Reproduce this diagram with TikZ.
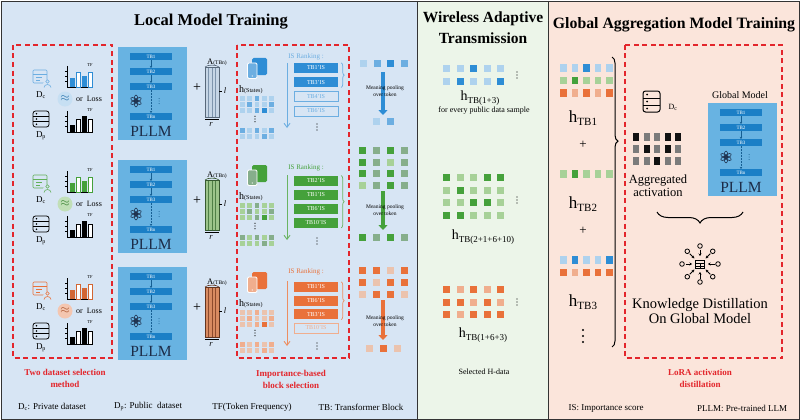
\documentclass[tikz,border=0pt]{standalone}
\usepackage{fontspec}
\setmainfont{Liberation Serif}
\usetikzlibrary{arrows.meta, decorations.pathreplacing}
\definecolor{lbg}{HTML}{D7E5F4}
\definecolor{mbg}{HTML}{ECF5E9}
\definecolor{rbg}{HTML}{FBE5DB}
\definecolor{pllm}{HTML}{68B3E2}
\definecolor{tbbar}{HTML}{1B7FC6}
\definecolor{tbdark}{HTML}{165F93}
\definecolor{navy}{HTML}{1C2C48}
\definecolor{redd}{HTML}{E3262C}
\definecolor{bA}{HTML}{2E8DD5}
\definecolor{bB}{HTML}{6CAEE1}
\definecolor{bC}{HTML}{AED2EE}
\definecolor{gA}{HTML}{45A13B}
\definecolor{gB}{HTML}{86AE8B}
\definecolor{gC}{HTML}{A7D198}
\definecolor{oA}{HTML}{E9713A}
\definecolor{oB}{HTML}{F0AE8E}
\definecolor{oC}{HTML}{EBC3AE}
\definecolor{kA}{HTML}{111111}
\definecolor{kB}{HTML}{7B7B7B}
\definecolor{mfA}{HTML}{C6D6E6}
\definecolor{msA}{HTML}{7E95AD}
\definecolor{mfB}{HTML}{9CC48A}
\definecolor{msB}{HTML}{4F8046}
\definecolor{mfC}{HTML}{D98B61}
\definecolor{msC}{HTML}{8E4B2D}
\tikzstyle{panel}=[draw=black!80, line width=0.9pt]
\tikzstyle{redbox}=[draw=redd, line width=1.1pt, dash pattern=on 5pt off 3.5pt]
\tikzstyle{ttl}=[inner sep=0, align=center, font=\bfseries\fontsize{16.5}{21}\selectfont]
\tikzstyle{txt}=[inner sep=0, align=center]
\tikzstyle{redlbl}=[inner sep=0, align=center, text=redd, font=\bfseries\fontsize{9}{11.5}\selectfont]
\tikzstyle{foot}=[inner sep=0, font=\fontsize{9}{9}\selectfont]
\tikzstyle{tb}=[fill=tbbar, text=white, minimum width=42pt, minimum height=6.5pt,
    inner sep=0, font=\fontsize{5}{5}\selectfont]
\tikzstyle{tbarrow}=[-{Stealth[length=2.2pt, width=2.6pt]}, draw=tbdark, line width=0.5pt]
\tikzstyle{isbox}=[minimum width=44pt, minimum height=10pt, inner sep=0,
    font=\fontsize{6}{6}\selectfont]
\tikzstyle{isarrow}=[-{Straight Barb[length=4pt, width=6pt]}, line width=0.9pt]
\tikzstyle{isbrace}=[decorate, decoration={brace, amplitude=3pt}, line width=0.7pt]
\tikzstyle{poolarrow}=[-{Triangle[length=5pt, width=9pt]}, line width=3.5pt]
\tikzstyle{pooltxt}=[inner sep=0, align=center, font=\fontsize{5.5}{6.5}\selectfont]
\def\sqs{7,7}
% row of small squares: x, y, pitch, size, colours
\newcommand{\sqrow}[5]{\foreach \c [count=\i from 0] in {#5}
    \fill[\c] ({#1+\i*#3},{#2}) rectangle ++(#4);}
% three dots in a column: x, y (middle), gap, radius
\newcommand{\vdts}[4]{\foreach \k in {-1,0,1} \fill ({#1},{#2+\k*#3}) circle (#4);}
\newcommand{\hlab}[2]{h\raisebox{-0.18em}{\fontsize{#2}{#2}\selectfont #1}}
\newcommand{\openailogo}[2]{\begin{scope}[shift={({#1},{#2})}]
    \foreach \a in {0,60,...,300}
      \draw[navy, line width=0.55pt, rotate=\a] (0,-2.3) ellipse [x radius=1.8, y radius=3.6];
  \end{scope}}
% PLLM block: name, x, y (top left)
\newcommand{\pllmbox}[3]{%
  \node[fill=pllm, minimum width=69pt, minimum height=93pt, inner sep=0] (#1) at ({#2+34.5},{#3+46.5}) {};
  \node[tb] (#1tb1) at ({#2+33},{#3+9.5}) {TB1};
  \node[tb] (#1tb2) at ({#2+33},{#3+24.5}) {TB2};
  \node[tb] (#1tb3) at ({#2+33},{#3+39.5}) {TB3};
  \node[tb] (#1tbn) at ({#2+33},{#3+69.5}) {TBn};
  \draw[tbarrow] (#1tb1) -- (#1tb2);
  \draw[tbarrow] (#1tb2) -- (#1tb3);
  \draw[tbarrow, densely dotted] (#1tb3) -- (#1tbn);
  \begin{scope}[tbdark]\vdts{#2+41}{#3+54}{2.5}{0.5}\end{scope}
  \openailogo{#2+18}{#3+54}
  \node[txt, text=navy, font=\fontsize{15.5}{15.5}\selectfont] (#1name) at ({#2+33},{#3+84}) {PLLM};}
% bar chart: name, x, y (base), colour, four heights
\newcommand{\tfchart}[8]{%
  \draw[black, line width=0.6pt] (#2,{#3-21}) -- (#2,#3) -- ({#2+26},#3);
  \foreach \t in {6,11,16} \draw[black, line width=0.5pt] ({#2-2},{#3-\t}) -- (#2,{#3-\t});
  \fill[#4] ({#2+3},#3) rectangle ++(4.5,-#5);
  \draw[#4, fill=white, line width=0.6pt] ({#2+9},#3) rectangle ++(4.5,-#6);
  \fill[#4] ({#2+15},#3) rectangle ++(4.5,-#7);
  \draw[#4, fill=white, line width=0.6pt] ({#2+21},#3) rectangle ++(4.5,-#8);
  \node[txt, font=\fontsize{4.5}{4.5}\selectfont] (#1) at ({#2+23},{#3-22}) {TF};}
% dataset column: name, dy, dark, mid, light
\newcommand{\datarow}[5]{\begin{scope}[shift={(0,#2)}]
  \draw[#4, line width=0.7pt, rounded corners=1pt] (33,70) rectangle (47,83);
  \draw[#4, line width=0.7pt] (33,74) -- (47,74) (36,77.5) -- (42,77.5) (36,80) -- (40,80);
  \fill[lbg] (47.5,84) circle (4.5);
  \draw[#4, line width=0.6pt] (47.5,81.5) circle (1.7);
  \draw[#4, line width=0.6pt] (44,87.5) arc (180:360:3.5 and 3);
  \node[txt, font=\fontsize{9}{9}\selectfont] (#1dc) at (41,95) {D\textsubscript{c}};
  \tfchart{#1tfa}{67}{87}{#3}{9}{15}{11}{15}
  \node[txt, circle, fill=#5!70!white, minimum size=15pt, text=#3!80!black,
    font=\fontsize{12}{12}\selectfont] (#1ap) at (65,99) {$\approx$};
  \node[txt, font=\fontsize{8}{8}\selectfont] (#1loss) at (89,99) {or\ \ Loss};
  \draw[black, line width=0.8pt, rounded corners=2.5pt] (33,111) rectangle (49,127);
  \draw[black, line width=0.8pt] (33,116.3) -- (49,116.3) (33,121.6) -- (49,121.6);
  \foreach \yy in {113.7,119,124.3} \fill[black] (36.5,\yy) circle (0.9);
  \node[txt, font=\fontsize{9}{9}\selectfont] (#1dp) at (41,136) {D\textsubscript{p}};
  \tfchart{#1tfb}{67}{132}{black}{7}{13}{16}{13}
\end{scope}}
% model column: name, dy, fill, stripe
\newcommand{\modelrow}[4]{\begin{scope}[shift={(0,#2)}]
  \pllmbox{#1p}{118}{47}
  \node[txt, font=\fontsize{14}{14}\selectfont] (#1plus) at (197,88) {+};
  \node[txt, font=\fontsize{8.5}{8.5}\selectfont] (#1alab) at (217,62) {A{\fontsize{5.5}{5.5}\selectfont(TBn)}};
  \fill[#3] (205,67) rectangle (219,117);
  \foreach \xx in {208.5,212,215.5} \draw[#4, line width=0.6pt] (\xx,67) -- (\xx,117);
  \draw[#4!70!black, line width=0.7pt] (205,67) rectangle (219,117);
  \draw[#4!70!black, line width=0.6pt] (205,67) .. controls (207,64.5) and (217,64.5) .. (219,67);
  \draw[black, line width=0.5pt] (219,91) -- (222,91);
  \node[txt, font=\itshape\fontsize{8.5}{8.5}\selectfont] (#1l) at (225,91) {l};
  \draw[black, line width=0.5pt] (205,119) -- (219,119);
  \node[txt, font=\itshape\fontsize{8.5}{8.5}\selectfont] (#1r) at (211,124) {r};
\end{scope}}
% hidden states: name, dy, dark, mid, light
\newcommand{\staterow}[5]{\begin{scope}[shift={(0,#2)}]
  \fill[#3, rounded corners=1.5pt] (252,58) rectangle (267,75);
  \draw[white, fill=#4, line width=0.8pt, rounded corners=1.2pt] (247.5,63) rectangle (257,78.5);
  \fill[white] (252.2,76) circle (0.7);
  \node[txt, anchor=west, font=\fontsize{10}{10}\selectfont] (#1h) at (239,90) {h{\fontsize{6}{6}\selectfont(States)}};
  \sqrow{240}{96}{7.3}{4.8,4.8}{#5,#5,#4,#5,#5}
  \sqrow{240}{102}{7.3}{4.8,4.8}{#5,#4,#5,#5,#4}
  \sqrow{240}{108}{7.3}{4.8,4.8}{#5,#5,#4,#3,#5}
  \vdts{255}{119}{2.8}{0.6}
  \sqrow{240}{128}{7.3}{4.8,4.8}{#4,#5,#4,#5,#4}
  \sqrow{240}{134}{7.3}{4.8,4.8}{#5,#5,#5,#4,#5}
\end{scope}}

\begin{document}
\begin{tikzpicture}[x=1pt, y=-1pt]
  \useasboundingbox (0,0) rectangle (800,420);
  \fill[lbg] (1,1) rectangle (417,419);
  \fill[mbg] (417,1) rectangle (548,419);
  \fill[rbg] (548,1) rectangle (799,419);
  \draw[panel] (1,1) rectangle (799,419);
  \draw[panel] (417,1) -- (417,419);
  \draw[panel] (548,1) -- (548,419);
  \node[ttl] (ltitle) at (211,22) {Local Model Training};
  \node[ttl, font=\bfseries\fontsize{15.5}{21}\selectfont] (mtitle) at (483,28) {Wireless Adaptive\\Transmission};
  \node[ttl, font=\bfseries\fontsize{15.8}{21}\selectfont] (rtitle) at (674,25) {Global Aggregation Model Training};
  \draw[redbox] (13,45) rectangle (112,358);
  \draw[redbox] (237,45) rectangle (349,358);
  \draw[redbox] (625,45) rectangle (782,358);
  \node[redlbl] (sellbl) at (65,378.5) {Two dataset selection\\method};
  \node[redlbl] (blklbl) at (291,379.5) {Importance-based\\block selection};
  \node[redlbl] (loralbl) at (700,378.5) {LoRA activation\\distillation};
  \node[foot] (fdc) at (52,407) {D\textsubscript{c}: Private dataset};
  \node[foot] (fdp) at (148,407) {D\textsubscript{p}: Public\ \ dataset};
  \node[foot] (ftf) at (252,407) {TF(Token Frequency)};
  \node[foot] (ftb) at (361,407) {TB: Transformer Block};
  \node[foot] (fis) at (606,408) {IS: Importance score};
  \node[foot] (fpl) at (742,408) {PLLM: Pre-trained LLM};
  % local rows
  \datarow{A}{0}{bA}{bB}{bC}
  \datarow{B}{105}{gA}{gA!85}{gC}
  \datarow{C}{212}{oA!90!black}{oA}{oB}
  \modelrow{A}{0}{mfA}{msA}
  \modelrow{B}{113}{mfB}{msB}
  \modelrow{C}{220}{mfC}{msC}
  \staterow{A}{0}{bA}{bB}{bC}
  \staterow{B}{107}{gA}{gB}{gC}
  \staterow{C}{214}{oA}{oB}{oC}
  % IS ranking, row 1
  \node[txt, text=bB, font=\fontsize{7}{7}\selectfont] (isAt) at (306,57) {IS Ranking :};
  \coordinate (isAtop) at (287,63);
  \coordinate (isAbot) at (287,128);
  \draw[isarrow, bB] (isAtop) -- (isAbot);
  \foreach \t [count=\i] in {TB1'IS,TB3'IS}
    \node[isbox, fill=bA, text=white] (isA\i) at (316,{53.7+14.3*\i}) {\t};
  \foreach \t [count=\i from 3] in {TB4'IS,TB6'IS}
    \node[isbox, draw=bB, text=bB, line width=0.6pt] (isA\i) at (316,{53.7+14.3*\i}) {\t};
  \draw[isbrace, bB] ([xshift=3pt]isA1.north east) -- ([xshift=3pt]isA2.south east);
  \vdts{317}{127}{3}{0.7}
  % IS ranking, row 2
  \node[txt, text=gA, font=\fontsize{7}{7}\selectfont] (isBt) at (306,168) {IS Ranking :};
  \coordinate (isBtop) at (287,175);
  \coordinate (isBbot) at (287,240);
  \draw[isarrow, gA!80] (isBtop) -- (isBbot);
  \foreach \t [count=\i] in {TB2'IS,TB1'IS,TB6'IS,TB10'IS}
    \node[isbox, fill=gA, text=white] (isB\i) at (316,{166.7+14*\i}) {\t};
  \draw[isbrace, gA!80] ([xshift=3pt]isB1.north east) -- ([xshift=3pt]isB4.south east);
  \vdts{317}{241}{3}{0.7}
  % IS ranking, row 3
  \node[txt, text=oA, font=\fontsize{7}{7}\selectfont] (isCt) at (306,272) {IS Ranking :};
  \coordinate (isCtop) at (287,281);
  \coordinate (isCbot) at (287,346);
  \draw[isarrow, oA!80] (isCtop) -- (isCbot);
  \foreach \t [count=\i] in {TB1'IS,TB6'IS,TB3'IS}
    \node[isbox, fill=oA, text=white] (isC\i) at (316,{273.3+13.7*\i}) {\t};
  \node[isbox, draw=oB, text=oB, line width=0.6pt] (isC4) at (316,328) {TB10'IS};
  \draw[isbrace, oA!80] ([xshift=3pt]isC1.north east) -- ([xshift=3pt]isC3.south east);
  \vdts{317}{346}{3}{0.7}
  % mean pooling
  \sqrow{360}{60}{13.5}{\sqs}{bC,bB,bA,bB}
  \coordinate (plAtop) at (383,72);
  \coordinate (plAbot) at (383,115);
  \draw[poolarrow, bA] (plAtop) -- (plAbot);
  \node[pooltxt] (plAt) at (385,91) {Meaning pooling\\over token};
  \sqrow{373}{118}{13.5}{\sqs}{bC,bB}
  \sqrow{359}{147}{14}{\sqs}{gA,gB,gA,gB}
  \sqrow{359}{158.5}{14}{\sqs}{gA,gB,gC,gB}
  \sqrow{359}{170}{14}{\sqs}{gA,gB,gA,gB}
  \sqrow{359}{181.5}{14}{\sqs}{gC,gB,gA,gB}
  \coordinate (plBtop) at (383,191);
  \coordinate (plBbot) at (383,230);
  \draw[poolarrow, gA] (plBtop) -- (plBbot);
  \node[pooltxt] (plBt) at (385,210) {Meaning pooling\\over token};
  \sqrow{359}{234}{14}{\sqs}{gA,gB,gA,gB}
  \sqrow{359}{267}{14}{\sqs}{oA,oA,oC,oA}
  \sqrow{359}{279}{14}{\sqs}{oA,oC,oA,oA}
  \sqrow{359}{291}{14}{\sqs}{oC,oA,oA,oC}
  \coordinate (plCtop) at (383,300);
  \coordinate (plCbot) at (383,340);
  \draw[poolarrow, oA] (plCtop) -- (plCbot);
  \node[pooltxt] (plCt) at (385,321) {Meaning pooling\\over token};
  \sqrow{366}{345}{14}{\sqs}{oC,oA,oC}
  % wireless transmission
  \sqrow{443}{65}{13.5}{\sqs}{bC,bC,bA,bC,bC}
  \sqrow{443}{78}{13.5}{\sqs}{bC,bA,bC,bC,bA}
  \vdts{517}{75}{3}{0.6}
  \node[txt, font=\fontsize{14}{14}\selectfont] (mhA) at (480,98) {\hlab{TB(1+3)}{9}};
  \node[txt, font=\fontsize{8}{8}\selectfont] (msample) at (484,111) {for every public data sample};
  \sqrow{443}{174}{13.5}{\sqs}{gA,gC,gC,gA,gA}
  \sqrow{443}{186.5}{13.5}{\sqs}{gC,gA,gC,gC,gC}
  \sqrow{443}{199}{13.5}{\sqs}{gC,gC,gA,gA,gC}
  \sqrow{443}{211.5}{13.5}{\sqs}{gA,gA,gC,gC,gC}
  \vdts{517}{200}{3}{0.6}
  \node[txt, font=\fontsize{14}{14}\selectfont] (mhB) at (483,237) {\hlab{TB(2+1+6+10)}{9}};
  \sqrow{443}{286}{13.5}{\sqs}{oA,oB,oA,oB,oA}
  \sqrow{443}{298.5}{13.5}{\sqs}{oA,oA,oB,oA,oB}
  \sqrow{443}{311}{13.5}{\sqs}{oA,oB,oA,oA,oA}
  \vdts{517}{302}{3}{0.6}
  \node[txt, font=\fontsize{14}{14}\selectfont] (mhC) at (483,335) {\hlab{TB(1+6+3)}{9}};
  \node[txt, font=\fontsize{8}{8}\selectfont] (mhdata) at (484,372) {Selected H-data};
  % global aggregation
  \sqrow{560}{64}{11.5}{6.5,7.5}{bC,bC,bA,bC,bC}
  \sqrow{560}{76.5}{11.5}{6.5,7.5}{gC,gA,gC,gC,gC}
  \sqrow{560}{89}{11.5}{6.5,7.5}{oA,oB,oA,oB,oA}
  \node[txt, font=\fontsize{17}{17}\selectfont] (rhA) at (583,118) {\hlab{TB1}{11}};
  \node[txt, font=\fontsize{13}{13}\selectfont] (rplA) at (583,145) {+};
  \sqrow{560}{170}{11.5}{6.5,7.5}{gC,gA,gC,gC,gC}
  \node[txt, font=\fontsize{17}{17}\selectfont] (rhB) at (583,204) {\hlab{TB2}{11}};
  \node[txt, font=\fontsize{13}{13}\selectfont] (rplB) at (583,231) {+};
  \sqrow{560}{256}{11.5}{6.5,7.5}{bC,bA,bC,bC,bA}
  \sqrow{560}{268.5}{11.5}{6.5,7.5}{oA,oB,oA,oA,oA}
  \node[txt, font=\fontsize{17}{17}\selectfont] (rhC) at (583,302) {\hlab{TB3}{11}};
  \vdts{583}{336}{6}{1.2}
  \coordinate (brtop) at (612,57);
  \coordinate (brbot) at (612,347);
  \draw[decorate, decoration={brace, amplitude=6pt, aspect=0.29}, line width=1pt] (brtop) -- (brbot);
  \draw[line width=1pt, rounded corners=2.5pt] (643,91) rectangle (660,112);
  \draw[line width=0.9pt] (643,98) -- (660,98) (643,105) -- (660,105);
  \foreach \yy in {94.5,101.5,108.5} \fill (647,\yy) circle (1);
  \node[txt, font=\fontsize{8}{8}\selectfont] (rdc) at (673,107) {D\textsubscript{c}};
  \node[txt, font=\fontsize{10}{10}\selectfont] (gmlab) at (740,95) {Global Model};
  \pllmbox{gp}{708}{103}
  \sqrow{633}{133}{10.5}{6,8}{kA,kB,kB,kA,kA}
  \sqrow{633}{145}{10.5}{6,8}{kB,kA,kB,kA,kB}
  \sqrow{633}{157}{10.5}{6,8}{kB,kB,kA,kB,kB}
  \node[txt, font=\fontsize{12.5}{13}\selectfont] (aggr) at (658,186) {Aggregated\\activation};
  \coordinate (agr) at (743,212);
  \coordinate (agl) at (657,212);
  \draw[decorate, decoration={brace, amplitude=11pt}, line width=1pt] (agr) -- (agl);
  \begin{scope}[shift={(700,264)}]
    \draw[line width=0.8pt] (-4.5,-4) rectangle (4.5,4.5);
    \draw[line width=0.6pt] (-4.5,-1) -- (4.5,-1) (0,-1) -- (0,4.5) (-4.5,1.8) -- (4.5,1.8);
    \foreach \a in {0,45,...,315} {
      \draw[line width=0.8pt] (\a:18) circle (2.3);
      \draw[-{Stealth[length=2.5pt, width=3pt]}, line width=0.8pt] (\a:14.5) -- (\a:8);
    }
  \end{scope}
  \node[txt, font=\fontsize{14.5}{15.5}\selectfont] (kd) at (700,311) {Knowledge Distillation\\On Global Model};
\end{tikzpicture}
\end{document}
